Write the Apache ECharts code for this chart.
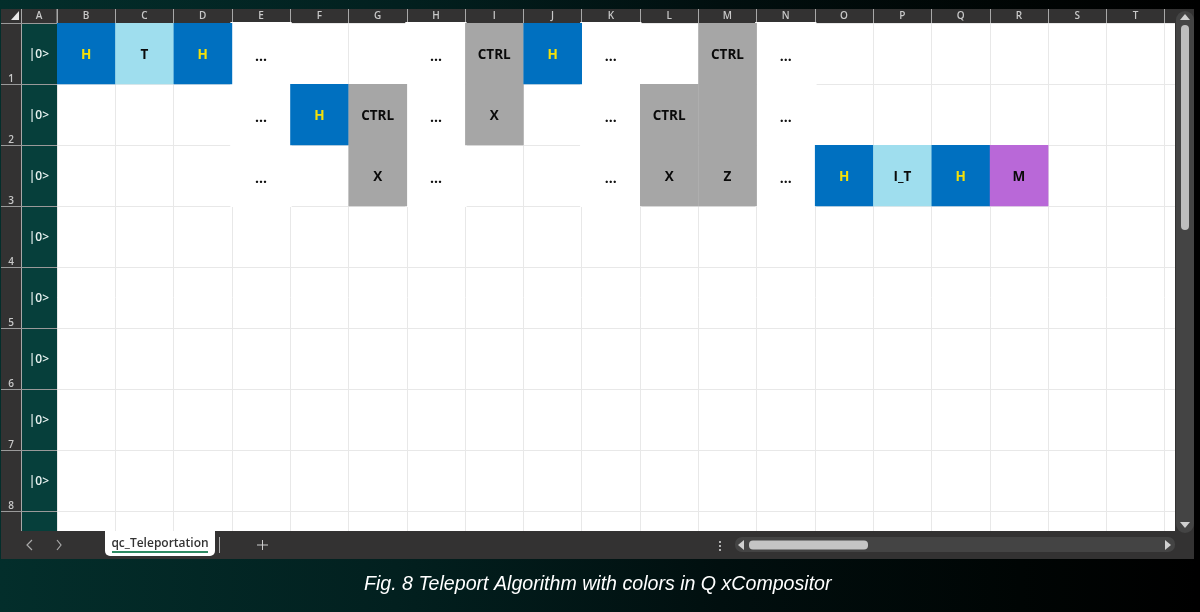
<!DOCTYPE html>
<html><head><meta charset="utf-8">
<style>html,body{margin:0;padding:0;background:#000}#c{width:1200px;height:612px}</style>
<script src="https://cdn.jsdelivr.net/npm/echarts@6/dist/echarts.min.js"></script>
</head><body><div id="c"></div>
<script>
var columnLabels = ['B','C','D','E','F','G','H','I','J','K','L','M','N','O','P','Q','R','S','T',''];
var rowLabels = ['1','2','3','4','5','6','7','8',''];
var qubitLabels = ['|0>','|0>','|0>','|0>','|0>','|0>','|0>','|0>',''];
var spacerCells = [['E','1'],['E','2'],['E','3'],['H','1'],['H','2'],['H','3'],['K','1'],['K','2'],['K','3'],['N','1'],['N','2'],['N','3']];
var gateCells = [
 ['B','1','H'],['C','1','T'],['D','1','H'],
 ['F','2','H'],['G','2','CTRL'],['G','3','X'],
 ['I','1','CTRL'],['I','2','X'],['J','1','H'],
 ['L','2','CTRL'],['L','3','X'],['M','1','CTRL'],['M','2',''],['M','3','Z'],
 ['O','3','H'],['P','3','I_T'],['Q','3','H'],['R','3','M']
];
var sheetName = 'qc_Teleportation';
var caption = 'Fig. 8 Teleport Algorithm with colors in Q xCompositor';

var BLUE='#0070c0', LIGHT='#9fdeee', GRAY='#a6a6a6', PURPLE='#b968d8';
var gateFill = {H:BLUE,T:LIGHT,I_T:LIGHT,CTRL:GRAY,X:GRAY,Z:GRAY,'':GRAY,M:PURPLE};
var FONT='"Open Sans","Noto Sans",sans-serif';
var bgGradient={type:'linear',x:0,y:0,x2:1,y2:0,global:false,colorStops:[{offset:0,color:'#032e2b'},{offset:0.33,color:'#02201f'},{offset:0.6,color:'#010f0f'},{offset:0.85,color:'#000504'},{offset:1,color:'#000'}]};

function gateItem(params, api){
  var c = api.coord([api.value(0), api.value(1)]);
  var s = api.size([1,1]);
  var g = api.value(2);
  return {type:'group',children:[
    {type:'rect',shape:{x:c[0]-s[0]/2,y:c[1]-s[1]/2,width:s[0]+0.3,height:s[1]+0.3},style:{fill:gateFill[g]}},
    {type:'text',style:{x:c[0],y:c[1]+1.5,text:g,align:'center',verticalAlign:'middle',
      font:'700 13.5px '+FONT,fill:g==='H'?'#f4e008':'#0a0a0a'}}
  ]};
}
function spacerItem(params, api){
  var c = api.coord([api.value(0), api.value(1)]);
  var s = api.size([1,1]);
  return {type:'group',children:[
    {type:'rect',shape:{x:c[0]-s[0]/2-1.5,y:c[1]-s[1]/2-1,width:s[0]+3,height:s[1]+2},style:{fill:'#fff'}},
    {type:'text',style:{x:c[0],y:c[1]+3.5,text:'...',align:'center',verticalAlign:'middle',font:'700 14px '+FONT,fill:'#111'}}
  ]};
}
var below=[
 {type:'rect',z:1,shape:{x:1,y:9,width:1193,height:14},style:{fill:'#333232'}},
 {type:'rect',z:1,shape:{x:1,y:23,width:21,height:510},style:{fill:'#333232'}},
 {type:'rect',z:1,shape:{x:22,y:23,width:35,height:510},style:{fill:'#063f3b'}},
 {type:'polygon',z:2,shape:{points:[[19,11],[19,20],[11,20]]},style:{fill:'#e8e8e8'}},
 {type:'line',z:2,shape:{x1:21.5,y1:9,x2:21.5,y2:531},style:{stroke:'#a8a8a8',lineWidth:1}},
 {type:'line',z:2,shape:{x1:57,y1:9,x2:57,y2:23},style:{stroke:'#a8a8a8',lineWidth:1}},
 {type:'text',z:2,style:{x:39,y:16.5,text:'A',align:'center',verticalAlign:'middle',font:'600 10px '+FONT,fill:'#c8c8c8'}}
];
var above=[
 {type:'rect',z:20,shape:{x:1175,y:9,width:25,height:550},style:{fill:'#333232'}},
 {type:'rect',z:20,shape:{x:0,y:559,width:1200,height:53},style:{fill:bgGradient}},
 {type:'rect',z:20,shape:{x:1194,y:0,width:6,height:612},style:{fill:'#000'}},
 {type:'rect',z:20,shape:{x:1,y:531,width:1193,height:28},style:{fill:'#333232'}},
 {type:'rect',z:21,shape:{x:1176,y:11,width:18,height:522,r:9},style:{fill:'#444444'}},
 {type:'rect',z:21,shape:{x:1181,y:25,width:8,height:205,r:4},style:{fill:'#bdbdbd'}},
 {type:'polygon',z:22,shape:{points:[[1185,14],[1190,20],[1180,20]]},style:{fill:'#d0d0d0'}},
 {type:'polygon',z:22,shape:{points:[[1185,528],[1190,522],[1180,522]]},style:{fill:'#d0d0d0'}},
 {type:'rect',z:21,shape:{x:735,y:537,width:440,height:15,r:7},style:{fill:'#444444'}},
 {type:'rect',z:22,shape:{x:749,y:540.5,width:119,height:9,r:4},style:{fill:'#c4c4c4'}},
 {type:'polygon',z:22,shape:{points:[[738,545],[744,540],[744,550]]},style:{fill:'#d0d0d0'}},
 {type:'polygon',z:22,shape:{points:[[1171,545],[1165,540],[1165,550]]},style:{fill:'#d0d0d0'}},
 {type:'circle',z:22,shape:{cx:720,cy:542,r:1},style:{fill:'#ddd'}},
 {type:'circle',z:22,shape:{cx:720,cy:546,r:1},style:{fill:'#ddd'}},
 {type:'circle',z:22,shape:{cx:720,cy:550,r:1},style:{fill:'#ddd'}},
 {type:'polyline',z:22,shape:{points:[[32,540],[27,545],[32,550]]},style:{fill:null,stroke:'#aaa',lineWidth:1.2}},
 {type:'polyline',z:22,shape:{points:[[57,540],[61,545],[57,550]]},style:{fill:null,stroke:'#aaa',lineWidth:1.2}},
 {type:'rect',z:22,shape:{x:105,y:531,width:110,height:25,r:[0,0,5,5]},style:{fill:'#fff'}},
 {type:'text',z:23,style:{x:160,y:544,text:sheetName,align:'center',verticalAlign:'middle',font:'600 12px '+FONT,fill:'#333'}},
 {type:'rect',z:23,shape:{x:112,y:551,width:96,height:2},style:{fill:'#2f8a63'}},
 {type:'line',z:22,shape:{x1:219.5,y1:537,x2:219.5,y2:553},style:{stroke:'#aaa',lineWidth:1}},
 {type:'line',z:22,shape:{x1:257,y1:545,x2:268,y2:545},style:{stroke:'#ccc',lineWidth:1}},
 {type:'line',z:22,shape:{x1:262.5,y1:540,x2:262.5,y2:550},style:{stroke:'#ccc',lineWidth:1}}
];
var gridLine={show:true,lineStyle:{color:'#e8e8e8',width:1}};
var chart=echarts.init(document.getElementById('c'),null,{renderer:'canvas'});
chart.setOption({
 animation:false,
 backgroundColor:bgGradient,
 title:{text:caption,left:359,top:570,z:30,textStyle:{color:'#fff',fontSize:19.6,fontStyle:'italic',fontWeight:'normal',fontFamily:'"Liberation Sans",Arial,sans-serif'}},
 grid:{left:57,top:23,width:58.3*20,height:61*9,show:true,backgroundColor:'#fff',borderWidth:0,containLabel:false,outerBoundsMode:'none'},
 xAxis:{type:'category',position:'top',data:columnLabels,z:10,
   axisLine:{show:false},axisTick:{show:true,length:14,lineStyle:{color:'#a8a8a8'}},
   axisLabel:{show:true,interval:0,margin:2,color:'#c8c8c8',fontSize:10,fontWeight:600,fontFamily:FONT},
   splitLine:Object.assign({interval:0},gridLine)},
 yAxis:[
  {type:'category',inverse:true,data:rowLabels,z:10,
   axisLine:{show:false},axisTick:{show:true,interval:0,length:56,lineStyle:{color:'#9a9a9a'}},
   axisLabel:{show:true,interval:0,margin:43,color:'#c8c8c8',fontSize:10,fontWeight:600,fontFamily:FONT,
     formatter:function(v){return v?'{n|'+v+'}':'';},
     rich:{n:{color:'#c8c8c8',fontSize:10,fontWeight:600,fontFamily:FONT,padding:[52,0,0,0]}}},
   splitLine:Object.assign({interval:0},gridLine)},
  {type:'category',inverse:true,position:'left',data:qubitLabels,z:10,
   axisLine:{show:false},axisTick:{show:false},
   axisLabel:{show:true,interval:0,margin:8,color:'#e8f2f0',fontSize:12,fontWeight:600,fontFamily:FONT,
     formatter:function(v){return v?'{q|'+v+'}':'';},
     rich:{q:{color:'#e8f2f0',fontSize:12,fontWeight:600,fontFamily:FONT,padding:[3,0,0,0]}}},
   splitLine:{show:false}}
 ],
 graphic:{elements:below.concat(above)},
 series:[
  {type:'custom',name:'spacers',z:11,clip:false,coordinateSystem:'cartesian2d',renderItem:spacerItem,encode:{x:0,y:1},data:spacerCells,silent:true},
  {type:'custom',name:'gates',z:12,clip:false,coordinateSystem:'cartesian2d',renderItem:gateItem,encode:{x:0,y:1},data:gateCells,silent:true}
 ]
});
</script></body></html>
